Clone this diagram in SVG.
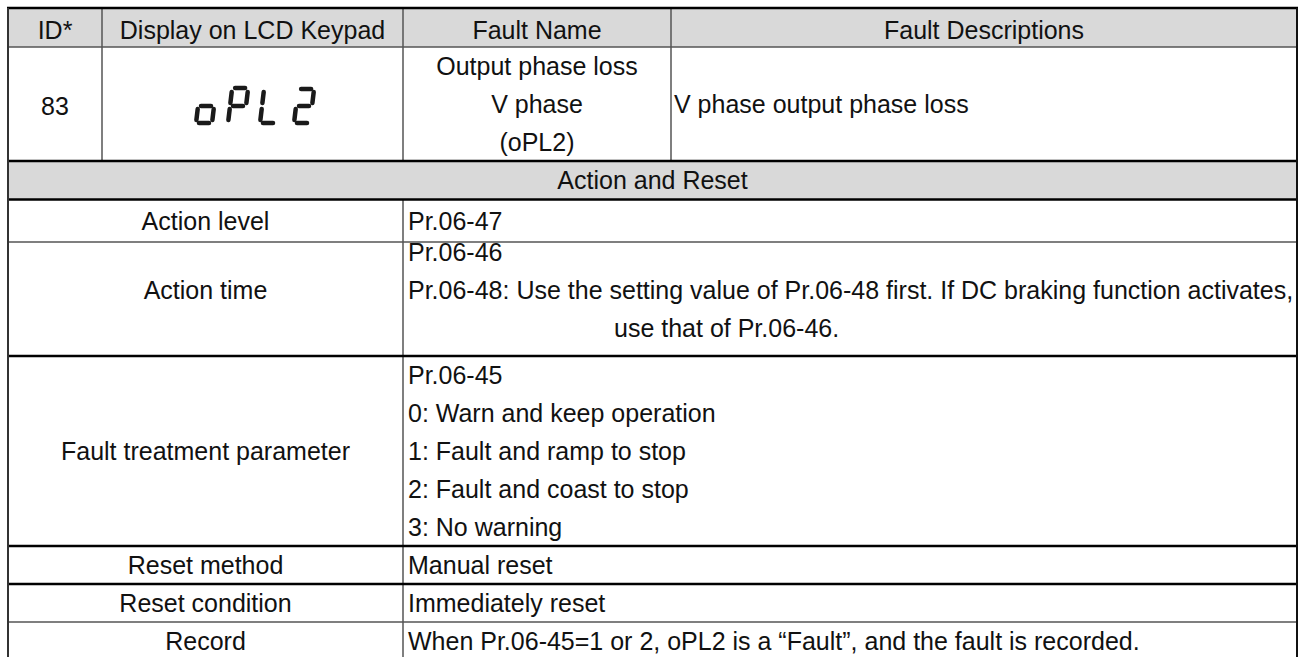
<svg xmlns="http://www.w3.org/2000/svg" width="1306" height="657" viewBox="0 0 1306 657">
<style>
text{font-family:"Liberation Sans",Arial,sans-serif;font-size:25px;fill:#111}
.c{text-anchor:middle}
.hl{stroke:#000;stroke-width:2.5}
.tl{stroke:#555;stroke-width:1.5}
.seg{stroke:#1a1a1a;stroke-width:4.5;stroke-linecap:round;fill:none}
</style>
<rect width="1306" height="657" fill="#fff"/>
<g id="fills">
<rect x="8" y="8" width="1289" height="39" fill="#d9d9d9"/>
<rect x="8" y="161" width="1289" height="38" fill="#d9d9d9"/>
</g>
<g id="header">
<text class="c" x="55" y="39">ID*</text>
<text class="c" x="252.5" y="39">Display on LCD Keypad</text>
<text class="c" x="537" y="39">Fault Name</text>
<text class="c" x="984" y="39">Fault Descriptions</text>
</g>
<g id="row83">
<text class="c" x="55" y="115">83</text>
<g id="lcd">
<line class="seg" x1="201" y1="106" x2="211" y2="106"/>
<line class="seg" x1="197.7" y1="109" x2="196.4" y2="120"/>
<line class="seg" x1="199" y1="123" x2="209" y2="123"/>
<line class="seg" x1="213.7" y1="109" x2="212.4" y2="120"/>
<line class="seg" x1="235.1" y1="88" x2="245.1" y2="88"/>
<line class="seg" x1="231.7" y1="92" x2="230.4" y2="103"/>
<line class="seg" x1="247.7" y1="92" x2="246.4" y2="103"/>
<line class="seg" x1="233" y1="106" x2="243" y2="106"/>
<line class="seg" x1="229.7" y1="109" x2="228.4" y2="120"/>
<line class="seg" x1="263.7" y1="92" x2="262.4" y2="103"/>
<line class="seg" x1="261.7" y1="109" x2="260.4" y2="120"/>
<line class="seg" x1="263" y1="123" x2="273" y2="123"/>
<line class="seg" x1="301.1" y1="89" x2="311.1" y2="89"/>
<line class="seg" x1="313.7" y1="92" x2="312.4" y2="103"/>
<line class="seg" x1="299" y1="106" x2="309" y2="106"/>
<line class="seg" x1="295.7" y1="109" x2="294.4" y2="120"/>
<line class="seg" x1="297" y1="123" x2="307" y2="123"/>
</g>
<text class="c" x="537" y="75">Output phase loss</text>
<text class="c" x="537" y="113">V phase</text>
<text class="c" x="537" y="151">(oPL2)</text>
<text x="674" y="113">V phase output phase loss</text>
</g>
<g id="action-reset">
<text class="c" x="652.5" y="189">Action and Reset</text>
</g>
<g id="action-level">
<text class="c" x="205.5" y="230">Action level</text>
<text x="408" y="230">Pr.06-47</text>
</g>
<g id="action-time">
<text class="c" x="205.5" y="299">Action time</text>
<text x="408" y="261">Pr.06-46</text>
<text x="408" y="299">Pr.06-48: Use the setting value of Pr.06-48 first. If DC braking function activates,</text>
<text x="614" y="337">use that of Pr.06-46.</text>
</g>
<g id="fault-treatment">
<text class="c" x="205.5" y="460">Fault treatment parameter</text>
<text x="408" y="384">Pr.06-45</text>
<text x="408" y="422">0: Warn and keep operation</text>
<text x="408" y="460">1: Fault and ramp to stop</text>
<text x="408" y="498">2: Fault and coast to stop</text>
<text x="408" y="536">3: No warning</text>
</g>
<g id="reset-method">
<text class="c" x="205.5" y="574">Reset method</text>
<text x="408" y="574">Manual reset</text>
</g>
<g id="reset-condition">
<text class="c" x="205.5" y="612">Reset condition</text>
<text x="408" y="612">Immediately reset</text>
</g>
<g id="record">
<text class="c" x="205.5" y="650">Record</text>
<text x="408" y="650">When Pr.06-45=1 or 2, oPL2 is a “Fault”, and the fault is recorded.</text>
</g>
<g id="grid">
<line class="tl" x1="102" y1="8" x2="102" y2="161"/>
<line class="tl" x1="403" y1="8" x2="403" y2="161"/>
<line class="tl" x1="671" y1="8" x2="671" y2="161"/>
<line class="tl" x1="403" y1="199" x2="403" y2="657"/>
<line class="tl" x1="8" y1="47" x2="1297" y2="47"/>
<line class="tl" x1="8" y1="242" x2="1297" y2="242"/>
<line class="tl" x1="8" y1="622" x2="1297" y2="622"/>
<line class="hl" x1="7" y1="8" x2="1298" y2="8"/>
<line class="hl" x1="7" y1="161" x2="1298" y2="161"/>
<line class="hl" x1="7" y1="199.5" x2="1298" y2="199.5"/>
<line class="hl" x1="7" y1="356" x2="1298" y2="356"/>
<line class="hl" x1="7" y1="546" x2="1298" y2="546"/>
<line class="hl" x1="7" y1="584" x2="1298" y2="584"/>
<line stroke="#333" stroke-width="2" x1="8" y1="8" x2="8" y2="657"/>
<line stroke="#111" stroke-width="2" x1="1297" y1="8" x2="1297" y2="657"/>
</g>
</svg>
